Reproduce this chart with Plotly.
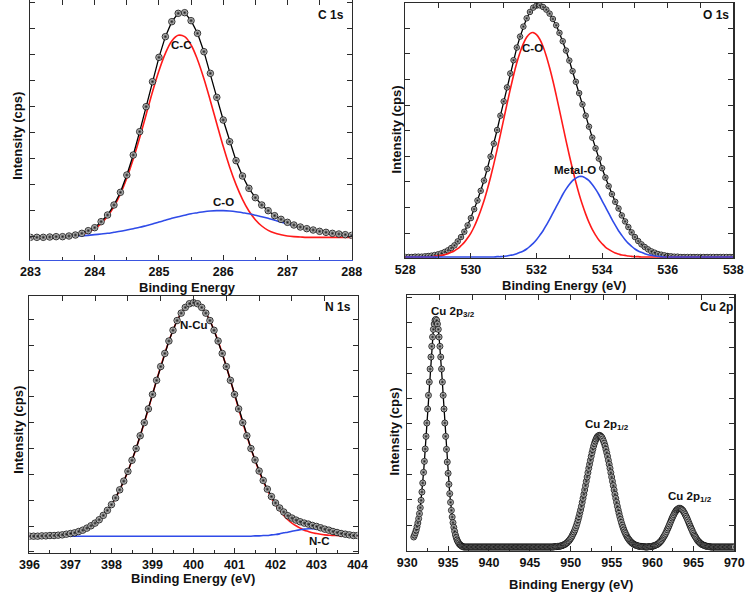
import numpy as np
import plotly.graph_objects as go

W, H = 756, 593

# ---------------- C 1s ----------------
C1S_E = np.round(np.linspace(283.0, 288.0, 51), 2)
C1S_DATA = [68, 68, 68, 69, 70, 70, 72, 75, 80, 88,
            97, 115, 135, 165, 203, 255, 315, 385, 460, 535,
            608, 670, 715, 740, 742, 718, 680, 625, 560, 488,
            420, 355, 298, 252, 215, 187, 165, 148, 133, 122,
            113, 105, 99, 94, 90, 86, 83, 80, 78, 76,
            74]
C1S_CC = [68, 68, 68, 68, 68, 69, 71, 73, 77, 84,
          94, 109, 131, 160, 198, 246, 303, 367, 436, 505,
          568, 620, 657, 674, 670, 645, 601, 544, 478, 409,
          341, 279, 226, 182, 147, 121, 102, 89, 81, 76,
          72, 70, 69, 68, 68, 68, 68, 68, 68, 68,
          68]
C1S_CO = [68, 69, 69, 69, 69, 70, 71, 72, 73, 74,
          76, 78, 80, 83, 86, 90, 94, 98, 103, 108,
          114, 119, 125, 130, 134, 139, 142, 145, 147, 148,
          148, 147, 145, 142, 139, 134, 130, 125, 119, 114,
          108, 103, 98, 94, 90, 86, 83, 80, 78, 76,
          74]

# ---------------- O 1s ----------------
O1S_E = np.round(np.linspace(528.0, 538.0, 101), 2)
O1S_DATA = [3, 3, 3, 4, 4, 4, 5, 6, 7, 9,
            11, 14, 18, 23, 30, 38, 50, 63, 79, 98,
            120, 147, 173, 202, 233, 268, 305, 344, 385, 428,
            471, 513, 555, 595, 633, 666, 696, 721, 740, 753,
            759, 760, 755, 747, 735, 719, 700, 677, 652, 624,
            594, 562, 530, 496, 462, 428, 395, 362, 330, 299,
            270, 242, 216, 192, 169, 149, 128, 110, 93, 77,
            63, 51, 41, 33, 26, 20, 16, 12, 10, 8,
            6, 5, 4, 4, 3, 3, 3, 3, 3, 3,
            3, 3, 3, 3, 3, 3, 3, 3, 3, 3,
            3]
O1S_CO = [3, 3, 3, 3, 3, 3, 3, 3, 3, 5,
          7, 8, 10, 13, 17, 22, 28, 37, 47, 60,
          75, 94, 117, 143, 172, 206, 243, 283, 326, 371,
          417, 463, 507, 549, 587, 619, 645, 664, 675, 678,
          672, 658, 636, 607, 572, 533, 490, 445, 399, 353,
          309, 267, 228, 192, 160, 132, 107, 86, 69, 54,
          43, 33, 26, 20, 15, 12, 9, 8, 6, 5,
          4, 4, 3, 3, 3, 3, 3, 3, 3, 3,
          3, 3, 3, 3, 3, 3, 3, 3, 3, 3,
          3, 3, 3, 3, 3, 3, 3, 3, 3, 3,
          3]
O1S_MO = [3, 3, 3, 3, 3, 3, 3, 3, 3, 3,
          3, 3, 3, 3, 3, 3, 3, 3, 3, 3,
          3, 3, 3, 3, 3, 3, 3, 3, 4, 4,
          5, 6, 8, 10, 13, 17, 21, 27, 35, 44,
          55, 68, 82, 99, 116, 135, 154, 172, 191, 207,
          221, 233, 240, 245, 245, 240, 233, 221, 207, 191,
          172, 154, 135, 116, 99, 82, 68, 55, 44, 35,
          27, 21, 17, 13, 10, 8, 6, 5, 4, 3,
          3, 3, 3, 3, 3, 3, 3, 3, 3, 3,
          3, 3, 3, 3, 3, 3, 3, 3, 3, 3,
          3]

# ---------------- N 1s ----------------
N1S_E = np.round(np.linspace(396.0, 404.0, 81), 2)
N1S_DATA = [50, 50, 50, 51, 51, 52, 52, 53, 54, 56,
            58, 60, 64, 68, 74, 81, 89, 99, 112, 127,
            144, 164, 188, 214, 243, 276, 311, 349, 388, 429,
            472, 514, 555, 594, 631, 663, 692, 714, 731, 742,
            745, 742, 731, 714, 692, 663, 631, 594, 555, 514,
            472, 429, 388, 349, 311, 277, 244, 216, 190, 168,
            149, 134, 122, 111, 104, 98, 93, 89, 86, 82,
            79, 75, 71, 68, 64, 61, 58, 56, 54, 52,
            52]
N1S_NCU = [50, 50, 50, 51, 51, 52, 52, 53, 54, 56,
           58, 60, 64, 68, 74, 81, 89, 99, 112, 127,
           144, 164, 188, 214, 243, 276, 311, 349, 388, 429,
           472, 514, 555, 594, 631, 663, 692, 714, 731, 742,
           745, 742, 731, 714, 692, 663, 631, 594, 555, 514,
           472, 429, 388, 349, 311, 276, 243, 214, 188, 164,
           144, 127, 112, 99, 89, 81, 74, 68, 64, 60,
           58, 56, 54, 53, 52, 52, 51, 51, 50, 50,
           50]
N1S_NC = [50, 50, 50, 50, 50, 50, 50, 50, 50, 50,
          50, 50, 50, 50, 50, 50, 50, 50, 50, 50,
          50, 50, 50, 50, 50, 50, 50, 50, 50, 50,
          50, 50, 50, 50, 50, 50, 50, 50, 50, 50,
          50, 50, 50, 50, 50, 50, 50, 50, 50, 50,
          50, 50, 50, 50, 50, 51, 51, 52, 52, 54,
          55, 57, 60, 62, 65, 67, 69, 71, 72, 72,
          71, 69, 67, 65, 62, 60, 57, 55, 54, 52,
          52]

# ---------------- Cu 2p ----------------
CU_E = np.round(np.linspace(930.8, 970.0, 393), 2)
CU_DATA = [42, 48,
           55, 63, 73, 84, 97, 112, 130, 152, 177, 204,
           236, 269, 306, 344, 384, 426, 467, 507, 546, 582,
           614, 642, 665, 681, 692, 695, 692, 681, 665, 642,
           614, 582, 546, 507, 467, 426, 384, 344, 305, 267,
           233, 200, 172, 146, 122, 102, 85, 71, 59, 48,
           40, 33, 28, 24, 20, 18, 16, 14, 13, 12,
           12, 12, 12, 12, 12, 12, 12, 12, 12, 12,
           12, 12, 12, 12, 12, 12, 12, 12, 12, 12,
           12, 12, 12, 12, 12, 12, 12, 12, 12, 12,
           12, 12, 12, 12, 12, 12, 12, 12, 12, 12,
           12, 12, 12, 12, 12, 12, 12, 12, 12, 12,
           12, 12, 12, 12, 12, 12, 12, 12, 12, 12,
           12, 12, 12, 12, 12, 12, 12, 12, 12, 12,
           12, 12, 12, 12, 12, 12, 12, 12, 12, 12,
           12, 12, 12, 12, 12, 12, 12, 12, 12, 12,
           12, 12, 12, 12, 12, 12, 12, 12, 12, 12,
           12, 12, 12, 12, 12, 12, 12, 12, 12, 12,
           13, 13, 13, 13, 14, 14, 14, 15, 15, 16,
           17, 18, 19, 20, 22, 24, 26, 29, 31, 35,
           38, 42, 47, 52, 57, 63, 70, 77, 85, 94,
           103, 113, 123, 134, 146, 158, 170, 183, 196, 209,
           222, 235, 248, 260, 272, 284, 295, 305, 315, 323,
           330, 336, 341, 344, 346, 347, 346, 344, 341, 336,
           330, 323, 315, 305, 295, 284, 272, 260, 248, 235,
           222, 209, 196, 183, 170, 158, 146, 134, 123, 113,
           103, 94, 85, 77, 70, 63, 57, 52, 47, 42,
           38, 35, 31, 29, 26, 24, 22, 20, 19, 18,
           17, 16, 15, 15, 14, 14, 14, 13, 13, 13,
           13, 12, 12, 12, 12, 13, 13, 13, 13, 14,
           14, 15, 16, 17, 18, 19, 20, 22, 24, 27,
           29, 32, 36, 40, 44, 48, 53, 58, 64, 69,
           75, 81, 87, 93, 99, 104, 109, 114, 118, 122,
           124, 126, 128, 128, 128, 126, 124, 122, 118, 114,
           109, 104, 99, 93, 87, 81, 75, 69, 64, 58,
           53, 48, 44, 40, 36, 32, 29, 27, 24, 22,
           20, 19, 18, 17, 16, 15, 14, 14, 13, 13,
           13, 12, 12, 12, 12, 12, 12, 12, 12, 12,
           12, 12, 12, 12, 12, 12, 12, 12, 12, 12,
           12, 12, 12, 12, 12, 12, 12, 12, 12, 12,
           12]

for a, b in [(C1S_E, C1S_DATA), (C1S_E, C1S_CC), (C1S_E, C1S_CO),
             (O1S_E, O1S_DATA), (O1S_E, O1S_CO), (O1S_E, O1S_MO),
             (N1S_E, N1S_DATA), (N1S_E, N1S_NCU), (N1S_E, N1S_NC),
             (CU_E, CU_DATA)]:
    assert len(a) == len(b), (len(a), len(b))

RED = "#ff1a1a"
BLUE = "#2f4be8"
AXC = "#2b2b2b"
FONT = "Liberation Sans"


def px(x):
    return x / W


def py(y):
    return 1 - y / H


def marker(size):
    return dict(size=size, color="#f4f4f4", symbol="circle",
                gradient=dict(type="radial", color="#151515"),
                line=dict(width=0.8, color="#000000"))


def data_trace(x, y, xa, ya, size):
    return go.Scatter(x=x, y=y, mode="lines+markers", xaxis=xa, yaxis=ya,
                      line=dict(color="#000000", width=1.3),
                      marker=marker(size), showlegend=False, hoverinfo="skip")


def fit_trace(x, y, xa, ya, color):
    return go.Scatter(x=x, y=y, mode="lines", xaxis=xa, yaxis=ya,
                      line=dict(color=color, width=1.6, shape="spline"),
                      showlegend=False, hoverinfo="skip")


traces = [
    fit_trace(C1S_E, C1S_CC, "x", "y", RED),
    fit_trace(C1S_E, C1S_CO, "x", "y", BLUE),
    data_trace(C1S_E, C1S_DATA, "x", "y", 6.5),

    data_trace(O1S_E, O1S_DATA, "x2", "y2", 5.5),
    fit_trace(O1S_E, O1S_CO, "x2", "y2", RED),
    fit_trace(O1S_E, O1S_MO, "x2", "y2", BLUE),

    fit_trace(N1S_E, N1S_NCU, "x3", "y3", RED),
    fit_trace(N1S_E, N1S_NC, "x3", "y3", BLUE),
    data_trace(N1S_E, N1S_DATA, "x3", "y3", 6.5),

    data_trace(CU_E, CU_DATA, "x4", "y4", 6),
]
# invisible helpers so the top (10-division) frame axes are drawn
for i, ya in zip(range(5, 9), ["y", "y2", "y3", "y4"]):
    traces.append(go.Scatter(x=[0, 10], y=[None, None], xaxis=f"x{i}", yaxis=ya,
                             mode="lines", showlegend=False, hoverinfo="skip"))

fig = go.Figure(traces)

panels = [
    # xdomain px, ydomain px, xrange, dtick, minor, yrange, tick0, ytick, xlinecolor
    ((21, 351), (0, 260), [283, 288], 1, 0.5, [0, 780], 72, 78, "#3a55e0"),
    ((406, 743), (3, 258), [528, 538], 2, 1, [0, 767], 75, 77, AXC),
    ((20, 357), (296, 553), [396, 404], 1, 0.5, [0, 765], 80, 77, AXC),
    ((408, 744), (295, 551), [930, 970], 5, 2.5, [0, 768], 78, 76, AXC),
]

tickfont = dict(family=FONT, size=12.5, color="#111111", weight="bold")
layout = dict(
    width=W, height=H, margin=dict(l=0, r=0, t=0, b=0),
    paper_bgcolor="white", plot_bgcolor="white", showlegend=False,
)
for i, (xd, yd, xr, dt, mn, yr, t0, ydt, xlc) in enumerate(panels, start=1):
    sx = "" if i == 1 else str(i)
    dom_x = [px(xd[0]), px(xd[1])]
    dom_y = [py(yd[1]), py(yd[0])]
    layout[f"xaxis{sx}"] = dict(
        domain=dom_x, range=xr, dtick=dt, tick0=xr[0], anchor=f"y{sx}",
        ticks="inside", ticklen=5, tickwidth=1, tickcolor=AXC,
        minor=dict(dtick=mn, ticks="inside", ticklen=3, tickcolor=AXC),
        showline=True, linecolor=xlc, linewidth=1.3,
        showgrid=False, zeroline=False, tickfont=tickfont, fixedrange=True,
    )
    layout[f"yaxis{sx}"] = dict(
        domain=dom_y, range=yr, anchor=f"x{sx}",
        showticklabels=False, ticks="inside", ticklen=5, tickwidth=1,
        tickcolor=AXC, tick0=t0, dtick=ydt, mirror="ticks",
        showline=True, linecolor=AXC, linewidth=1.3,
        showgrid=False, zeroline=False, fixedrange=True,
    )
    layout[f"xaxis{i + 4}"] = dict(
        domain=dom_x, range=[0, 10], dtick=1, overlaying=f"x{sx}", side="top",
        anchor=f"y{sx}", ticks="inside", ticklen=5, tickcolor=AXC,
        showticklabels=False, showline=True, linecolor=AXC, linewidth=1.3,
        showgrid=False, zeroline=False, fixedrange=True,
    )

fig.update_layout(**layout)


def ann(text, x, y, size=11.5, angle=0):
    fig.add_annotation(text=text, x=px(x), y=py(y), xref="paper", yref="paper",
                       showarrow=False, xanchor="center", yanchor="middle",
                       textangle=angle,
                       font=dict(family=FONT, size=size, color="#111111",
                                 weight="bold"))


# panel names
ann("C 1s", 330, 15, 12)
ann("O 1s", 725, 15, 12)
ann("N 1s", 337, 307, 12)
ann("Cu 2p", 726, 307, 12)
# peak labels
ann("C-C", 176, 45)
ann("C-O", 219, 202)
ann("C-O", 537, 48)
ann("Metal-O", 580, 170)
ann("N-Cu", 188, 325)
ann("N-C", 317, 541)
ann("Cu 2p<sub>3/2</sub>", 455, 312)
ann("Cu 2p<sub>1/2</sub>", 613, 425)
ann("Cu 2p<sub>1/2</sub>", 698, 497)
# axis titles
ann("Binding Energy", 182, 288, 13)
ann("Binding Energy (eV)", 569, 285, 13)
ann("Binding Energy (eV)", 188, 578, 13)
ann("Binding Energy (eV)", 576, 584, 13)
ann("Intensity (cps)", 8, 136, 13, -90)
ann("Intensity (cps)", 396, 130, 13, -90)
ann("Intensity (cps)", 8, 430, 13, -90)
ann("Intensity (cps)", 394, 432, 13, -90)

fig.write_html(
    "out.html",
    config={"displayModeBar": False, "staticPlot": True},
    post_script="document.body.style.margin='0';document.body.style.overflow='hidden';",
)
